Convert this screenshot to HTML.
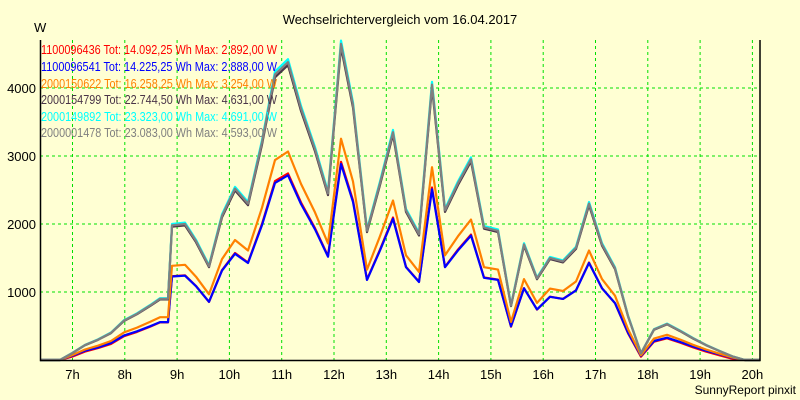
<!DOCTYPE html><html><head><style>body{margin:0;background:#ffffd3}svg{display:block;font-family:"Liberation Sans",sans-serif}</style></head><body>
<svg id="s" width="800" height="400" xmlns="http://www.w3.org/2000/svg">
<rect width="800" height="400" fill="#ffffd3"/>
<text x="400" y="24" font-size="13" text-anchor="middle">Wechselrichtervergleich vom 16.04.2017</text>
<text x="34" y="32" font-size="13">W</text>
<g id="grid" stroke="#00e000" stroke-dasharray="3,3" stroke-width="1"></g>
<g id="lab" font-size="13"></g>
<g id="ser" fill="none" stroke-width="2.2" stroke-linejoin="round"></g>
<path d="M40.5 40 V360.5 H760 V40" fill="none" stroke="#000" stroke-width="1.5"/>
<g font-size="12.5" lengthAdjust="spacingAndGlyphs">
<text x="41" y="54" fill="#ff0000" textLength="236" lengthAdjust="spacingAndGlyphs">1100096436 Tot: 14.092,25 Wh Max: 2.892,00 W</text>
<text x="41" y="71" fill="#0000ff" textLength="236" lengthAdjust="spacingAndGlyphs">1100096541 Tot: 14.225,25 Wh Max: 2.888,00 W</text>
<text x="41" y="88" fill="#ff8000" textLength="236" lengthAdjust="spacingAndGlyphs">2000150622 Tot: 16.258,25 Wh Max: 3.254,00 W</text>
<text x="41" y="104" fill="#4a3548" textLength="236" lengthAdjust="spacingAndGlyphs">2000154799 Tot: 22.744,50 Wh Max: 4.631,00 W</text>
<text x="41" y="121" fill="#00ffff" textLength="236" lengthAdjust="spacingAndGlyphs">2000149892 Tot: 23.323,00 Wh Max: 4.691,00 W</text>
<text x="41" y="137" fill="#808080" textLength="236" lengthAdjust="spacingAndGlyphs">2000001478 Tot: 23.083,00 Wh Max: 4.593,00 W</text>
</g>
<text x="796" y="394" font-size="12" text-anchor="end">SunnyReport pinxit</text>
</svg>
<script>
var ns="http://www.w3.org/2000/svg";
function X(t){return 72.5+(t-7)*52.3}function Y(v){return 360-v*0.068}
var g=document.getElementById('grid'),l=document.getElementById('lab');
function el(p,tag,a,txt){var e=document.createElementNS(ns,tag);for(var k in a)e.setAttribute(k,a[k]);if(txt)e.textContent=txt;p.appendChild(e);}
for(var h=7;h<=20;h++){var x=X(h);el(g,'line',{x1:x,x2:x,y1:40,y2:360});el(l,'text',{x:x,y:379,'text-anchor':'middle'},h+'h');}
[1000,2000,3000,4000].forEach(function(v){el(g,'line',{x1:40,x2:760,y1:Y(v),y2:Y(v)});el(l,'text',{x:36,y:Y(v)+5,'text-anchor':'end'},v);});
var P=[[40,0],[60,0],[72,100],[85,220],[98,300],[111,400],[124,580],[137,680],[150,800],[160,900],[168,900],[172,1980],[185,2000],[196,1750],[209,1380],[222,2120],[235,2520],[248,2300],[262,3200],[275,4200],[288,4380],[301,3700],[315,3100],[328,2450],[341,4650],[353,3750],[367,1900],[380,2600],[393,3350],[406,2200],[419,1850],[432,4050],[445,2200],[458,2600],[471,2950],[484,1950],[498,1900],[511,800],[524,1700],[537,1200],[550,1500],[563,1450],[576,1650],[589,2300],[602,1700],[615,1350],[628,650],[641,100],[654,450],[667,530],[680,430],[693,320],[706,220],[720,130],[733,50],[745,0],[760,0]];
function pts(f,dy){var s='';P.forEach(function(p,i){s+=(i?' L':'M')+p[0]+' '+Math.min(360,Y(p[1]*f)+dy).toFixed(1);});return s;}
var S=[[0.63,'#ff0000',1],[0.62,'#0000ff',0],[0.70,'#ff8000',0],[0.99,'#4a3548',0],[1.01,'#00ffff',0],[1.0,'#808080',0]];
var sg=document.getElementById('ser');S.forEach(function(s){el(sg,'path',{d:pts(s[0],s[2]),stroke:s[1]});});
</script>
</body></html>
